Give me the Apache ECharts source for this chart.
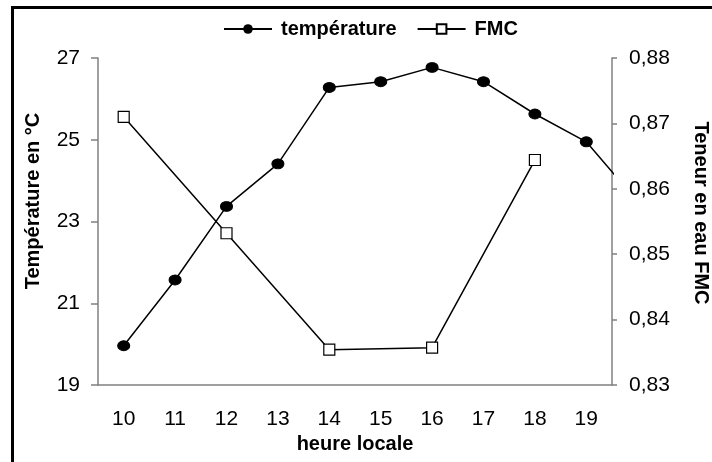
<!DOCTYPE html>
<html>
<head>
<meta charset="utf-8">
<script src="https://cdn.jsdelivr.net/npm/echarts@6/dist/echarts.min.js"></script>
<style>
html,body{margin:0;padding:0;background:#fff;}
#chart{width:712px;height:462px;}
</style>
</head>
<body>
<div id="chart"></div>
<script>
var hourLabels = ['10','11','12','13','14','15','16','17','18','19'];
var tempHours = [10, 11, 12, 13, 14, 15, 16, 17, 18, 19, 20];
var tempValues = [19.96, 21.57, 23.37, 24.41, 26.28, 26.42, 26.77, 26.42, 25.63, 24.95, 23.48];
var fmcHours = [10, 12, 14, 16, 18];
var fmcValues = [0.8710, 0.8532, 0.8354, 0.8357, 0.8644];
var leftTicks = [19, 21, 23, 25, 27];
var rightTicks = [0.83, 0.84, 0.85, 0.86, 0.87, 0.88];
var leftTitle = 'Température en °C';
var rightTitle = 'Teneur en eau FMC';
var xTitle = 'heure locale';

function pairs(xs, ys) { return xs.map(function (x, i) { return [x, ys[i]]; }); }

var FONT = 'Liberation Sans, Arial, sans-serif';
var chart = echarts.init(document.getElementById('chart'), null, {renderer: 'canvas'});
chart.setOption({
  animation: false,
  backgroundColor: '#fff',
  graphic: [{
    type: 'rect', left: 10, top: 5, z: 100, silent: true,
    shape: {x: 0, y: 0, width: 900, height: 700},
    style: {fill: 'none', stroke: '#000', lineWidth: 3}
  }, {
    type: 'text', x: 33, y: 201, rotation: Math.PI / 2, silent: true,
    style: {text: leftTitle, x: 0, y: 0, align: 'center', verticalAlign: 'middle',
      font: 'bold 20px ' + FONT, fill: '#000'}
  }, {
    type: 'text', x: 701, y: 213, rotation: -Math.PI / 2, silent: true,
    style: {text: rightTitle, x: 0, y: 0, align: 'center', verticalAlign: 'middle',
      font: 'bold 20px ' + FONT, fill: '#000'}
  }],
  legend: {
    top: 14, left: 218, itemGap: 20, itemWidth: 48, itemHeight: 12,
    textStyle: {fontFamily: FONT, fontSize: 20, fontWeight: 'bold', color: '#000', padding: [0, 0, 0, 4]},
    data: ['température', 'FMC']
  },
  grid: {left: 98, right: 100, top: 58, bottom: 77, containLabel: false},
  xAxis: [{
    type: 'category', data: hourLabels, boundaryGap: true,
    name: xTitle, nameLocation: 'middle', nameGap: 46,
    nameTextStyle: {fontFamily: FONT, fontSize: 20, fontWeight: 'bold', color: '#000'},
    axisLine: {lineStyle: {color: '#808080', width: 1.5}},
    axisTick: {alignWithLabel: true, length: 7, lineStyle: {color: '#808080', width: 1.5}},
    axisLabel: {fontFamily: FONT, fontSize: 21, color: '#000', margin: 24},
    splitLine: {show: false}
  }, {
    type: 'value', min: 9.5, max: 19.5, show: false
  }],
  yAxis: [{
    type: 'value', position: 'left', min: leftTicks[0], max: leftTicks[leftTicks.length - 1], interval: 2,
    axisLine: {show: true, lineStyle: {color: '#808080', width: 1.5}},
    axisTick: {show: true, length: 7, lineStyle: {color: '#808080', width: 1.5}},
    axisLabel: {fontFamily: FONT, fontSize: 21, color: '#000', margin: 18},
    splitLine: {show: false}
  }, {
    type: 'value', position: 'right', min: rightTicks[0], max: rightTicks[rightTicks.length - 1], interval: 0.01,
    axisLine: {show: true, lineStyle: {color: '#808080', width: 1.5}},
    axisTick: {show: true, length: 5, lineStyle: {color: '#808080', width: 1.5}},
    axisLabel: {fontFamily: FONT, fontSize: 21, color: '#000', margin: 17,
      formatter: function (v) { return v.toFixed(2).replace('.', ','); }},
    splitLine: {show: false}
  }],
  series: [{
    name: 'température', type: 'line', xAxisIndex: 1, yAxisIndex: 0,
    data: pairs(tempHours, tempValues), clip: true,
    symbol: 'circle', symbolSize: [12, 10],
    lineStyle: {color: '#000', width: 1.5},
    itemStyle: {color: '#000', borderColor: '#000'}
  }, {
    name: 'FMC', type: 'line', xAxisIndex: 1, yAxisIndex: 1,
    data: pairs(fmcHours, fmcValues), clip: true,
    symbol: 'rect', symbolSize: 11,
    lineStyle: {color: '#000', width: 1.5},
    itemStyle: {color: '#fff', borderColor: '#000', borderWidth: 1.2}
  }]
});
</script>
</body>
</html>
